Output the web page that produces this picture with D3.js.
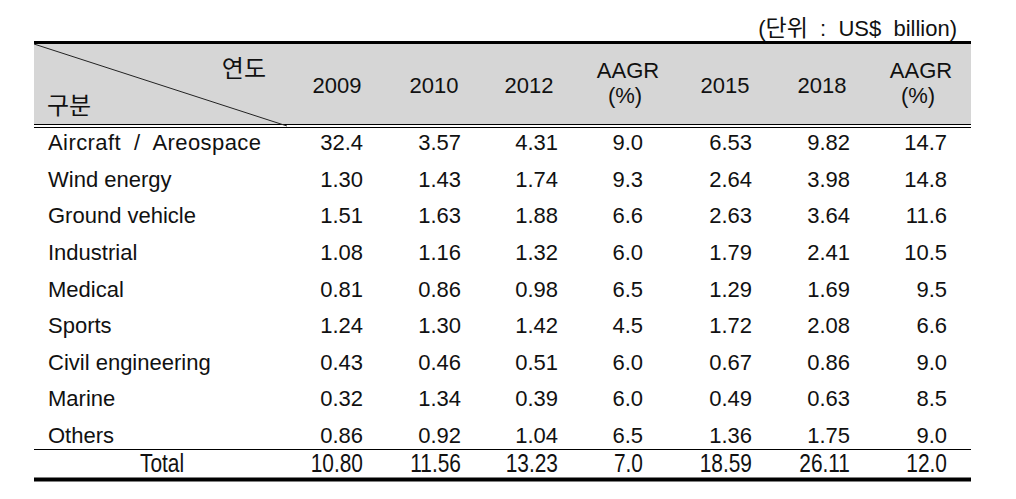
<!DOCTYPE html>
<html><head><meta charset="utf-8">
<script src="https://cdn.jsdelivr.net/npm/d3@7"></script>
<style>
html,body{margin:0;padding:0;background:#fff;}
svg text{font-family:"Liberation Sans","Noto Sans CJK KR",sans-serif;fill:#111;white-space:pre;font-size:22px;}
svg text.ko{font-family:"Noto Sans CJK KR",sans-serif;font-size:24px;}
svg tspan.ko{font-family:"Noto Sans CJK KR",sans-serif;font-size:23px;}
</style></head>
<body><svg id="c" width="1016" height="499"></svg>
<script>
const unitKo = "단위";
const unitRest = "  :  US$  billion)";
const cornerTop = "연도";
const cornerBottom = "구분";
const columns = ["2009","2010","2012","AAGR1","2015","2018","AAGR2"];
const headerLabels = [["2009"],["2010"],["2012"],["AAGR","(%)"],["2015"],["2018"],["AAGR","(%)"]];
const categories = ["Aircraft / Areospace","Wind energy","Ground vehicle","Industrial","Medical","Sports","Civil engineering","Marine","Others"];
const v2009 = ["32.4","1.30","1.51","1.08","0.81","1.24","0.43","0.32","0.86"];
const v2010 = ["3.57","1.43","1.63","1.16","0.86","1.30","0.46","1.34","0.92"];
const v2012 = ["4.31","1.74","1.88","1.32","0.98","1.42","0.51","0.39","1.04"];
const aagr1 = ["9.0","9.3","6.6","6.0","6.5","4.5","6.0","6.0","6.5"];
const v2015 = ["6.53","2.64","2.63","1.79","1.29","1.72","0.67","0.49","1.36"];
const v2018 = ["9.82","3.98","3.64","2.41","1.69","2.08","0.86","0.63","1.75"];
const aagr2 = ["14.7","14.8","11.6","10.5","9.5","6.6","9.0","8.5","9.0"];
const totalLabel = "Total";
const totals = ["10.80","11.56","13.23","7.0","18.59","26.11","12.0"];

const series = [v2009,v2010,v2012,aagr1,v2015,v2018,aagr2];
const svg = d3.select("#c");
const L = 34, R = 971;

// column and row scales
const xRight = d3.scaleOrdinal().domain(columns).range([363,461,558,643,752,850,947]);
const xHead = d3.scaleOrdinal().domain(columns).range([337,434,529,628,725,822,921]);
const yBase = d3.scaleLinear().domain([0,8]).range([150,443]);

// header band and rules
svg.append("rect").attr("x",L).attr("y",44).attr("width",R-L).attr("height",80).attr("fill","#d6d6d6");
svg.append("line").attr("x1",L).attr("x2",R).attr("y1",42.5).attr("y2",42.5).attr("stroke","#000").attr("stroke-width",3);
svg.append("line").attr("x1",L).attr("x2",R).attr("y1",124.5).attr("y2",124.5).attr("stroke","#000").attr("stroke-width",1.2);
svg.append("line").attr("x1",L).attr("x2",R).attr("y1",127.5).attr("y2",127.5).attr("stroke","#000").attr("stroke-width",1.2);
svg.append("line").attr("x1",L).attr("x2",287).attr("y1",44).attr("y2",126).attr("stroke","#222").attr("stroke-width",1);

const unit = svg.append("text").attr("x",957).attr("y",36).attr("text-anchor","end");
unit.append("tspan").text("(");
unit.append("tspan").attr("class","ko").text(unitKo);
unit.append("tspan").text(unitRest);
svg.append("text").attr("class","ko").attr("x",266).attr("y",76.5).attr("text-anchor","end").text(cornerTop);
svg.append("text").attr("class","ko").attr("x",47).attr("y",113.5).text(cornerBottom);

// headers
columns.forEach((c,i)=>{
  const lab = headerLabels[i];
  if(lab.length===1){
    svg.append("text").attr("x",xHead(c)).attr("y",93).attr("text-anchor","middle").text(lab[0]);
  } else {
    svg.append("text").attr("x",xHead(c)).attr("y",78).attr("text-anchor","middle").text(lab[0]);
    svg.append("text").attr("x",xHead(c)-3).attr("y",103).attr("text-anchor","middle").attr("font-size",23).text(lab[1]);
  }
});

// body rows
categories.forEach((cat,r)=>{
  const t = svg.append("text").attr("x",48).attr("y",yBase(r));
  if(r===0){
    // justified spacing as in the reference
    t.attr("textLength",213).attr("lengthAdjust","spacing").text(cat.replace(/ /g,"  "));
  } else t.text(cat);
  columns.forEach((c,i)=>{
    svg.append("text").attr("x",xRight(c)).attr("y",yBase(r)).attr("text-anchor","end").text(series[i][r]);
  });
});

// total row (vertically stretched glyphs as in the reference)
svg.append("line").attr("x1",L).attr("x2",R).attr("y1",449.5).attr("y2",449.5).attr("stroke","#000").attr("stroke-width",1.2);
const tot = (x, anchor, s) => svg.append("g").attr("transform",`translate(${x},472) scale(0.95,1.2)`)
  .append("text").attr("x",0).attr("y",0).attr("text-anchor",anchor).attr("font-size",21).text(s);
tot(162,"middle",totalLabel);
columns.forEach((c,i)=>tot(xRight(c),"end",totals[i]));
svg.append("line").attr("x1",L).attr("x2",R).attr("y1",479.5).attr("y2",479.5).attr("stroke","#000").attr("stroke-width",4);
</script></body></html>
